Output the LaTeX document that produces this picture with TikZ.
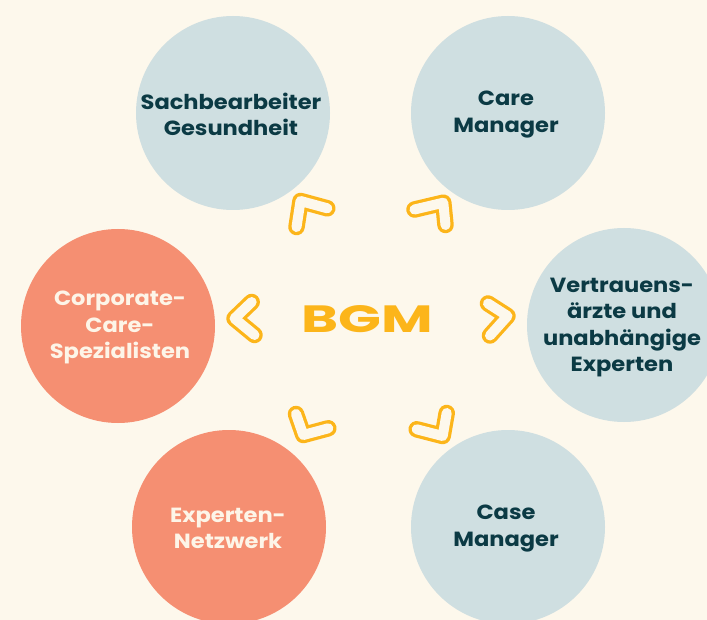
\documentclass[tikz,border=0pt]{standalone}
\usepackage{fontspec}
\setmainfont{Poppins}
\newfontfamily\lblfont{Poppins}[FakeStretch=1.1]
\newfontfamily\bgmfont{Poppins}[FakeStretch=1.48]
\definecolor{bgc}{RGB}{253,248,236}
\definecolor{bluec}{RGB}{207,223,225}
\definecolor{darkc}{RGB}{11,58,68}
\definecolor{salmonc}{RGB}{245,143,114}
\definecolor{lighttxt}{RGB}{253,245,232}
\definecolor{yel}{RGB}{252,181,26}
\tikzset{
  bluecirc/.style={circle, fill=bluec, minimum size=194pt, inner sep=0pt},
  salcirc/.style={circle, fill=salmonc, minimum size=194pt, inner sep=0pt},
  darklbl/.style={text=darkc, font=\lblfont\bfseries\fontsize{20.5}{26.5}\selectfont, align=center},
  lightlbl/.style={text=lighttxt, font=\lblfont\bfseries\fontsize{20.5}{26.5}\selectfont, align=center},
  chevout/.style={draw=yel, line width=16.5pt, line cap=round, line join=round},
  chevin/.style={draw=bgc, line width=10pt, line cap=round, line join=round},
}
\newcommand{\chev}[3]{%
  \draw[chevout] (#1) -- (#2) -- (#3);
  \draw[chevin] (#1) -- (#2) -- (#3);
}
\begin{document}
\begin{tikzpicture}[x=1pt,y=-1pt]
\fill[bgc] (0,0) rectangle (707,620);
\begin{scope}
\clip (0,0) rectangle (707,620);
\node[bluecirc] (tl) at (233,113) {};
\node[bluecirc] (tr) at (508,113) {};
\node[bluecirc] (r) at (624,325) {};
\node[salcirc] (l) at (118,326) {};
\node[salcirc] (bl) at (229,527) {};
\node[bluecirc] (br) at (508,527) {};
\end{scope}
\node[darklbl] (tlt) at (231,114.5) {Sachbearbeiter\\Gesundheit};
\node[darklbl] (trt) at (506,114.5) {Care\\Manager};
\node[darklbl] (rt) at (622,327.5) {Vertrauens-\\ärzte und\\unabhängige\\Experten};
\node[lightlbl] (lt) at (120,327.5) {Corporate-\\Care-\\Spezialisten};
\node[lightlbl] (blt) at (228,528.5) {Experten-\\Netzwerk};
\node[darklbl] (brt) at (506,528.5) {Case\\Manager};
\node[text=yel, font=\bgmfont\bfseries\fontsize{38}{44}\selectfont] (bgm) at (367.5,319) {BGM};
% chevrons
\coordinate (a1) at (296.5,227);
\coordinate (a2) at (300.5,201);
\coordinate (a3) at (327.3,208.3);
\chev{a1}{a2}{a3}
\coordinate (b1) at (414.5,209.5);
\coordinate (b2) at (443.3,202.7);
\coordinate (b3) at (445.5,225);
\chev{b1}{b2}{b3}
\coordinate (c1) at (488,303.5);
\coordinate (c2) at (507.5,316);
\coordinate (c3) at (490,335.5);
\chev{c1}{c2}{c3}
\coordinate (d1) at (251.7,302);
\coordinate (d2) at (234.5,318.5);
\coordinate (d3) at (254.5,335);
\chev{d1}{d2}{d3}
\coordinate (e1) at (296,414);
\coordinate (e2) at (303.3,435);
\coordinate (e3) at (328.3,428.3);
\chev{e1}{e2}{e3}
\coordinate (f1) at (446.7,413);
\coordinate (f2) at (442.7,436);
\coordinate (f3) at (416.7,429.3);
\chev{f1}{f2}{f3}
\end{tikzpicture}
\end{document}
